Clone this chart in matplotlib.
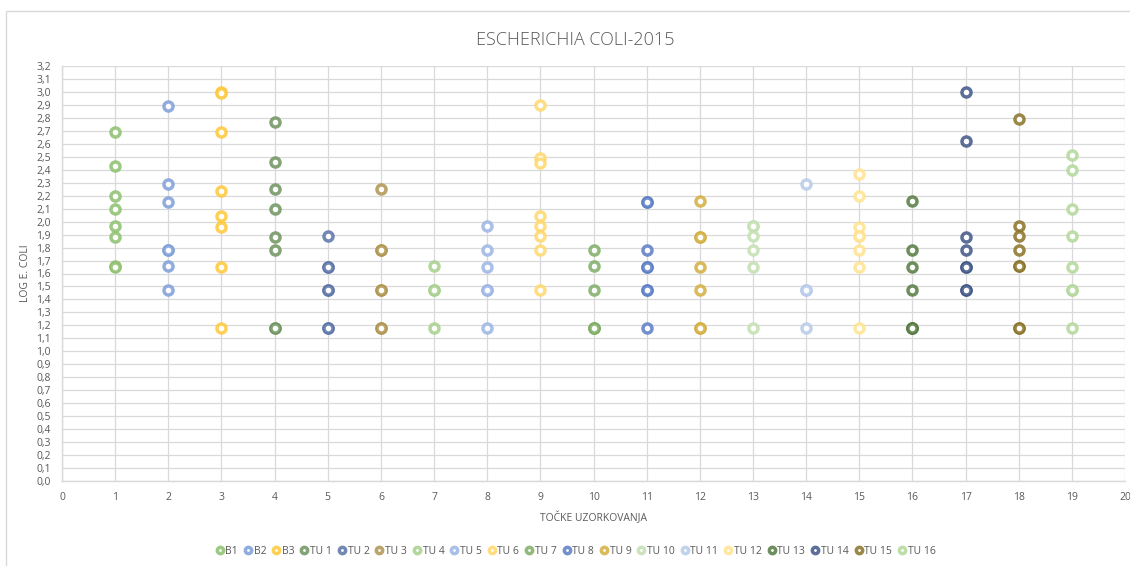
import numpy as np
import matplotlib
matplotlib.use('Agg')
import matplotlib.pyplot as plt
from matplotlib.patches import Rectangle
from matplotlib.ticker import FuncFormatter, MultipleLocator

# sampling points (x) and series names
sample_points = [1, 2, 3, 4, 5, 6, 7, 8, 9, 10, 11, 12, 13, 14, 15, 16, 17, 18, 19]
series_names = ['B1', 'B2', 'B3', 'TU 1', 'TU 2', 'TU 3', 'TU 4', 'TU 5', 'TU 6',
                'TU 7', 'TU 8', 'TU 9', 'TU 10', 'TU 11', 'TU 12', 'TU 13',
                'TU 14', 'TU 15', 'TU 16']

# log E. coli values (repeats = overlapping points)
b1 = [2.69, 2.43, 2.20, 2.10, 1.97, 1.88, 1.66, 1.65]
b2 = [2.89, 2.29, 2.15, 1.78, 1.78, 1.66, 1.47]
b3 = [3.00, 2.99, 2.69, 2.24, 2.04, 1.96, 1.65, 1.18]
tu1 = [2.77, 2.46, 2.25, 2.10, 1.88, 1.78, 1.18, 1.18]
tu2 = [1.89, 1.65, 1.65, 1.47, 1.47, 1.18, 1.18]
tu3 = [2.25, 1.78, 1.78, 1.47, 1.47, 1.18, 1.18]
tu4 = [1.66, 1.47, 1.47, 1.18]
tu5 = [1.97, 1.78, 1.65, 1.47, 1.47, 1.18]
tu6 = [2.90, 2.49, 2.45, 2.04, 1.97, 1.89, 1.78, 1.47]
tu7 = [1.78, 1.66, 1.47, 1.18, 1.18, 1.18]
tu8 = [2.15, 2.15, 1.78, 1.65, 1.65, 1.47, 1.47, 1.18]
tu9 = [2.16, 1.88, 1.88, 1.65, 1.47, 1.18, 1.18]
tu10 = [1.97, 1.97, 1.89, 1.78, 1.65, 1.18]
tu11 = [2.29, 1.47, 1.47, 1.18]
tu12 = [2.37, 2.20, 1.96, 1.89, 1.89, 1.78, 1.65, 1.18]
tu13 = [2.16, 1.78, 1.65, 1.47, 1.18, 1.18, 1.18]
tu14 = [3.00, 2.62, 1.88, 1.78, 1.65, 1.65, 1.47, 1.47]
tu15 = [2.79, 1.97, 1.89, 1.78, 1.66, 1.66, 1.18, 1.18]
tu16 = [2.51, 2.40, 2.10, 1.89, 1.65, 1.47, 1.47, 1.18]

series_values = [b1, b2, b3, tu1, tu2, tu3, tu4, tu5, tu6, tu7, tu8, tu9,
                 tu10, tu11, tu12, tu13, tu14, tu15, tu16]

series_colors = ['#8DC06E', '#7E9FDA', '#FFC838', '#6E9460', '#5A73A8', '#B09450',
                 '#A6D08C', '#9DB5E3', '#FFD86A', '#7FAE65', '#5B7CC4', '#D4AE3E',
                 '#C4E0B2', '#B8CAEA', '#FFE38F', '#557A42', '#3F5686', '#8A7228',
                 '#B2D89A']

txt_color = '#595959'
grid_color = '#D9D9D9'
plt.rcParams['font.family'] = ['Open Sans', 'DejaVu Sans']

fig = plt.figure(figsize=(11.3, 5.66), dpi=100)
ax = fig.add_axes([62 / 1130, 1 - 481 / 566, (1125 - 62) / 1130, (481 - 66) / 566])

# outer chart frame (only top and left edges visible in the crop)
fig.patches.append(Rectangle((6 / 1130, -0.1), 1.2, 1 - 11 / 566 + 0.1,
                             transform=fig.transFigure, fill=False,
                             edgecolor=grid_color, linewidth=1, zorder=0))

for x, vals, name, col in zip(sample_points, series_values, series_names, series_colors):
    rgba = matplotlib.colors.to_rgba(col, 0.85)
    ax.plot([x] * len(vals), vals, linestyle='none', marker='o', markersize=6.5,
            markeredgewidth=2.5, markerfacecolor='white', markeredgecolor=rgba,
            label=name, zorder=3)

ax.set_xlim(0, 20)
ax.set_ylim(0, 3.2)
ax.xaxis.set_major_locator(MultipleLocator(1))
ax.yaxis.set_major_locator(MultipleLocator(0.1))
ax.yaxis.set_major_formatter(FuncFormatter(lambda v, p: ('%.1f' % v).replace('.', ',')))
ax.grid(True, color=grid_color, linewidth=0.9)
ax.set_axisbelow(True)
for s in ['top', 'right']:
    ax.spines[s].set_visible(False)
for s in ['left', 'bottom']:
    ax.spines[s].set_color(grid_color)
    ax.spines[s].set_linewidth(1)
ax.tick_params(length=0, labelsize=7.5, labelcolor=txt_color, pad=8)

ax.set_xlabel('TOČKE UZORKOVANJA', fontsize=7.5, color=txt_color, labelpad=6)
ax.set_ylabel('LOG E. COLI', fontsize=7.5, color=txt_color, labelpad=4)
fig.text(575 / 1130, 1 - 40 / 566, 'ESCHERICHIA COLI-2015', ha='center', va='center',
         fontsize=13, color=txt_color, fontweight='light')

ax.legend(loc='center', bbox_to_anchor=(575 / 1130, 1 - 551 / 566),
          bbox_transform=fig.transFigure, ncol=19, frameon=False, fontsize=7.5,
          labelcolor=txt_color, handletextpad=0.05, columnspacing=0.45,
          handlelength=1.0, markerscale=0.7)

fig.savefig('out.png', dpi=100)
